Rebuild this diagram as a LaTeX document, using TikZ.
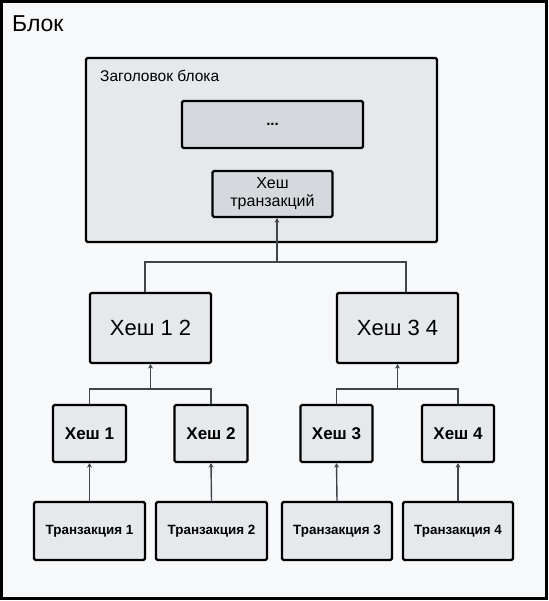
\documentclass[tikz,border=0pt]{standalone}
\usepackage{fontspec}
\setmainfont{Liberation Sans}
\usetikzlibrary{arrows.meta}

\definecolor{pagebg}{HTML}{F7F8FA}
\definecolor{boxfill}{HTML}{E6E9EC}
\definecolor{innerfill}{HTML}{D5D9DE}
\definecolor{wire}{HTML}{40454A}

\begin{document}
\begin{tikzpicture}[x=1pt,y=-1pt,
    box/.style={draw=black,line width=2.2pt,rounded corners=1.5pt,fill=boxfill,
      inner sep=0pt,align=center},
    link/.style={draw=wire,line width=1.4pt},
    uplink/.style={link,-{Stealth[length=4.5pt,width=5pt]}}]
        \useasboundingbox (0,0) rectangle (548,601) ;
        \draw[fill=pagebg,line width=3pt] (1.5,1.5) rectangle (546.5,598.5) ;
        \node[anchor=west,inner sep=0pt,font=\fontsize{23}{26}\selectfont] (blok) at (12,24) {Блок} ;
        % block header
        \node[box,minimum width=351pt,minimum height=184pt] (header) at (261.5,150) {} ;
        \node[anchor=west,inner sep=0pt,font=\fontsize{15.5}{18}\selectfont] (hdrtitle) at (100,76) {Заголовок блока} ;
        \node[box,fill=innerfill,minimum width=181pt,minimum height=47pt,
          font=\fontsize{15}{17}\selectfont\bfseries] (dots) at (272.5,124.5) {...} ;
        \node[box,fill=innerfill,minimum width=120pt,minimum height=46pt,
          font=\fontsize{16}{18}\selectfont] (txhash) at (272.5,194) {Хеш\\транзакций} ;
        % tree level 1
        \node[box,minimum width=121pt,minimum height=70pt,font=\fontsize{22}{25}\selectfont] (h12) at (150.5,328) {Хеш 1 2} ;
        \node[box,minimum width=121pt,minimum height=70pt,font=\fontsize{22}{25}\selectfont] (h34) at (397.5,328) {Хеш 3 4} ;
        % tree level 2
        \node[box,minimum width=73pt,minimum height=57pt,font=\fontsize{17}{20}\selectfont\bfseries] (h1) at (89.5,433.5) {Хеш 1} ;
        \node[box,minimum width=73pt,minimum height=57pt,font=\fontsize{17}{20}\selectfont\bfseries] (h2) at (211,433.5) {Хеш 2} ;
        \node[box,minimum width=72pt,minimum height=57pt,font=\fontsize{17}{20}\selectfont\bfseries] (h3) at (336.5,433.5) {Хеш 3} ;
        \node[box,minimum width=72pt,minimum height=57pt,font=\fontsize{17}{20}\selectfont\bfseries] (h4) at (458,433.5) {Хеш 4} ;
        % transactions
        \node[box,minimum width=111pt,minimum height=58pt,font=\fontsize{13.4}{16}\selectfont\bfseries] (t1) at (89.5,531) {Транзакция 1} ;
        \node[box,minimum width=111pt,minimum height=58pt,font=\fontsize{13.4}{16}\selectfont\bfseries] (t2) at (211.5,531) {Транзакция 2} ;
        \node[box,minimum width=110pt,minimum height=58pt,font=\fontsize{13.4}{16}\selectfont\bfseries] (t3) at (337,531) {Транзакция 3} ;
        \node[box,minimum width=110pt,minimum height=58pt,font=\fontsize{13.4}{16}\selectfont\bfseries] (t4) at (458,531) {Транзакция 4} ;
        % connectors
        \draw[link] ([xshift=-5.5pt]h12.north) -- ++(0,-30) coordinate (j0) -| ([xshift=8.5pt]h34.north) ;
        \draw[uplink] ([xshift=4.5pt]txhash.south |- j0) -- ([xshift=4.5pt]txhash.south) ;
        \draw[link] (h1.north) -- ++(0,-15) coordinate (j1) -| (h2.north) ;
        \draw[uplink] (h12.south |- j1) -- (h12.south) ;
        \draw[link] (h3.north) -- ++(0,-15) coordinate (j2) -| (h4.north) ;
        \draw[uplink] (h34.south |- j2) -- (h34.south) ;
        \draw[uplink] (t1.north) -- (h1.south) ;
        \draw[uplink] (t2.north) -- (h2.south) ;
        \draw[uplink] (t3.north) -- (h3.south) ;
        \draw[uplink] (t4.north) -- (h4.south) ;
      \end{tikzpicture}
\end{document}
